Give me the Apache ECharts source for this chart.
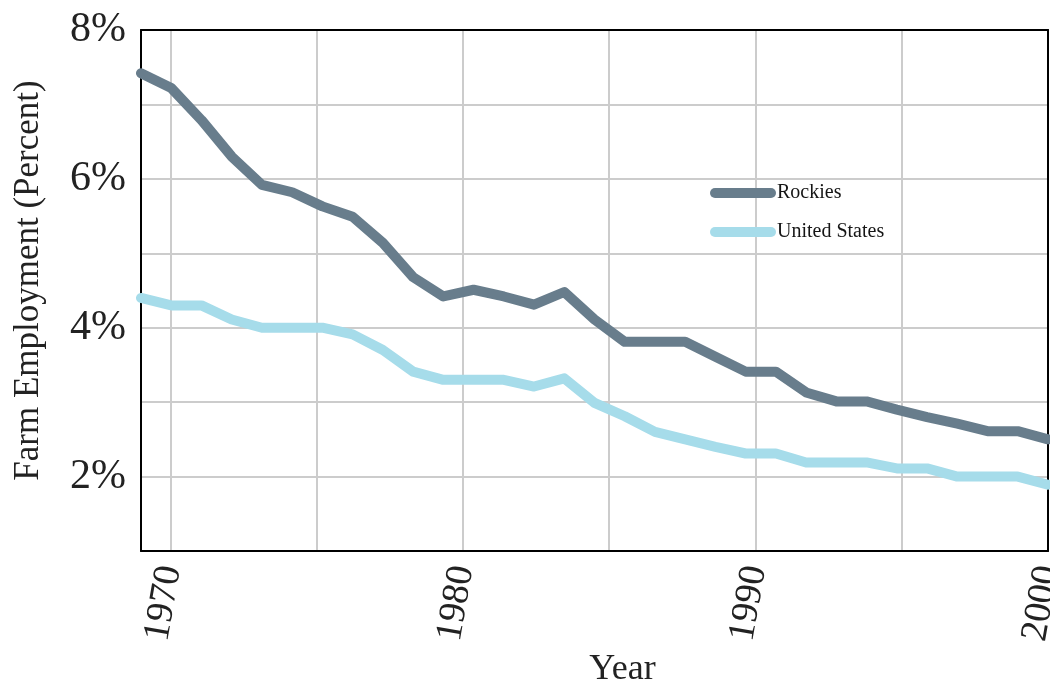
<!DOCTYPE html>
<html>
<head>
<meta charset="utf-8">
<script src="https://cdn.jsdelivr.net/npm/echarts@6/dist/echarts.min.js"></script>
<style>
html,body{margin:0;padding:0;background:#fff;}
#chart{width:1050px;height:683px;}
</style>
</head>
<body>
<div id="chart"></div>
<script>
// 31 observations, evenly spaced across the 1969–2000 axis span
const periods = ['1969','1970','1971','1972','1973','1974','1975','1976','1977','1978','1979','1980','1981','1982','1983','1984','1985','1986','1987','1988','1989','1990','1991','1992','1993','1994','1995','1996','1997','1998','1999'];
const rockies = [7.42,7.22,6.79,6.30,5.92,5.82,5.63,5.49,5.14,4.68,4.42,4.51,4.42,4.31,4.48,4.11,3.81,3.81,3.81,3.61,3.41,3.41,3.13,3.01,3.01,2.90,2.80,2.71,2.61,2.61,2.50];
const unitedStates = [4.40,4.30,4.30,4.11,4.00,4.00,4.00,3.91,3.70,3.41,3.30,3.30,3.30,3.21,3.32,2.99,2.81,2.60,2.50,2.40,2.31,2.31,2.19,2.19,2.19,2.11,2.11,2.00,2.00,2.00,1.89];
const yearTicks = [1970,1975,1980,1985,1990,1995,2000];
const yearLabels = [1970,1980,1990,2000];
const seriesNames = ['Rockies','United States'];

const serif = '"Liberation Serif", "DejaVu Serif", serif';
const chart = echarts.init(document.getElementById('chart'));
chart.setOption({
  animation: false,
  backgroundColor: '#fff',
  grid: {left: 141, top: 30, right: 2, bottom: 132, show: false, containLabel: false, outerBoundsMode: 'none'},
  legend: {
    left: 705, top: 178, orient: 'vertical', itemWidth: 66, itemHeight: 11, itemGap: 19,
    icon: 'path://M5,0 H61 A5,5 0 0 1 61,10 H5 A5,5 0 0 1 5,0 Z',
    textStyle: {fontFamily: serif, fontSize: 20, color: '#151515', padding: [0,0,0,-4]},
    data: seriesNames
  },
  xAxis: [
    {type: 'category', data: periods, boundaryGap: false, show: false},
    {type: 'value', min: 1969, max: 2000, position: 'bottom',
     axisLine: {show: true, lineStyle: {color: '#000', width: 2}},
     axisTick: {show: false, customValues: yearTicks},
     splitLine: {show: true, lineStyle: {color: '#cccccc', width: 2}},
     axisLabel: {customValues: yearLabels, rotate: 80, margin: 15, fontFamily: serif, fontSize: 38, color: '#222',
                 formatter: v => String(v)},
     name: 'Year', nameLocation: 'middle', nameGap: 100,
     nameTextStyle: {fontFamily: serif, fontSize: 36, color: '#222', padding: [0,0,0,56]}},
    {type: 'value', min: 1969, max: 2000, position: 'top',
     axisLine: {show: true, lineStyle: {color: '#000', width: 2}},
     axisTick: {show: false}, axisLabel: {show: false}, splitLine: {show: false}}
  ],
  yAxis: [
    {type: 'value', min: 1, max: 8, interval: 1,
     axisLine: {show: true, lineStyle: {color: '#000', width: 2}},
     axisTick: {show: false},
     splitLine: {show: true, lineStyle: {color: '#cccccc', width: 2}},
     axisLabel: {fontFamily: serif, fontSize: 42, color: '#222', margin: 15,
                 formatter: v => (v % 2 === 0 ? v + '%' : '')},
     name: 'Farm Employment (Percent)', nameLocation: 'middle', nameGap: 95, nameRotate: 90,
     nameTextStyle: {fontFamily: serif, fontSize: 35, color: '#222', padding: [0,0,0,20]}},
    {type: 'value', min: 1, max: 8, position: 'right',
     axisLine: {show: true, lineStyle: {color: '#000', width: 2}},
     axisTick: {show: false}, axisLabel: {show: false}, splitLine: {show: false}}
  ],
  series: [
    {name: seriesNames[0], type: 'line', xAxisIndex: 0, yAxisIndex: 0, data: rockies, showSymbol: false, symbol: 'none',
     lineStyle: {width: 10, color: '#687d8c', join: 'round', cap: 'round'}, itemStyle: {color: '#687d8c'}},
    {name: seriesNames[1], type: 'line', xAxisIndex: 0, yAxisIndex: 0, data: unitedStates, showSymbol: false, symbol: 'none',
     lineStyle: {width: 10, color: '#a6dcea', join: 'round', cap: 'round'}, itemStyle: {color: '#a6dcea'}}
  ]
});
</script>
</body>
</html>
